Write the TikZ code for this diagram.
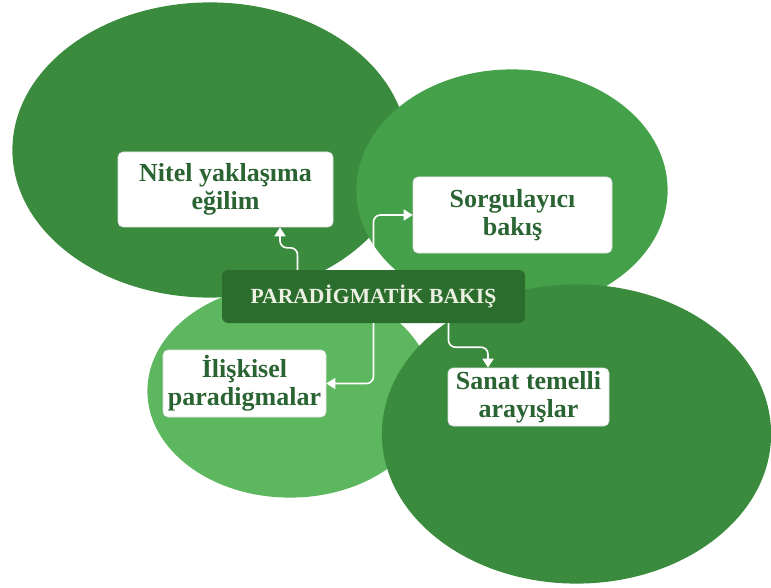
\documentclass[tikz,border=0pt]{standalone}
\usepackage{fontspec}
\setmainfont{Liberation Serif}
\usetikzlibrary{arrows.meta}

\definecolor{leafdark}{RGB}{59,139,63}
\definecolor{leafmid}{RGB}{69,160,74}
\definecolor{leaflight}{RGB}{92,183,94}
\definecolor{hubgreen}{RGB}{43,109,45}
\definecolor{inkgreen}{RGB}{42,100,50}
\definecolor{hubtext}{RGB}{236,240,226}

\tikzset{
    blob/.style = {draw = white, line width = 1.2pt},
    card/.style = {rounded corners = 5pt, fill = white, draw = black!12, line width = .6pt,
                   text = inkgreen, align = center, inner sep = 0pt,
                   font = \bfseries\fontsize{26}{28}\selectfont},
    link/.style = {draw = white, line width = 1.6pt, rounded corners = 7pt,
                   -{Triangle[width = 11pt, length = 9pt]}}
}

\begin{document}
\begin{tikzpicture}[x = 1pt, y = -1pt]
    \useasboundingbox (0,0) rectangle (771,588);

    % background ellipses
    \fill[blob, leafdark]  (210,150)   ellipse [x radius = 197, y radius = 147];
    \fill[blob, leafmid]   (512,190)   ellipse [x radius = 155, y radius = 120];
    \fill[blob, leaflight] (290,391)   ellipse [x radius = 142, y radius = 106];
    \fill[blob, leafdark]  (576.5,434) ellipse [x radius = 194, y radius = 149];

    % centre
    \node[rounded corners = 6pt, fill = hubgreen, text = hubtext, inner sep = 0pt,
          minimum width = 303pt, minimum height = 53pt,
          font = \bfseries\fontsize{21.6}{23}\selectfont] at (373.5,296.5) (hub) {PARADİGMATİK BAKIŞ};

    \node[card, minimum width = 215pt, minimum height = 75pt] at ([xshift = -148pt, yshift = 107pt]hub) (nitel) {Nitel yaklaşıma\\eğilim};
    \node[card, minimum width = 199pt, minimum height = 76pt] at ([xshift = 139pt, yshift = 81.5pt]hub) (sorgu) {Sorgulayıcı\\bakış};
    \node[card, minimum width = 163pt, minimum height = 67pt] at ([xshift = -129pt, yshift = -87pt]hub) (iliski) {İlişkisel\\paradigmalar};
    \node[card, minimum width = 161pt, minimum height = 58pt] at ([xshift = 155pt, yshift = -100.5pt]hub) (sanat) {Sanat temelli\\arayışlar};

    \draw[link] ([xshift = -76pt]hub.north) -- ++(0,-22) -| ([xshift = 54.5pt]nitel.south);
    \draw[link] (hub.north) |- (sorgu.west);
    \draw[link] (hub.south) |- (iliski.east);
    \draw[link] ([xshift = 75pt]hub.south) -- ++(0,24) -| ([xshift = -40.5pt]sanat.north);
\end{tikzpicture}
\end{document}
